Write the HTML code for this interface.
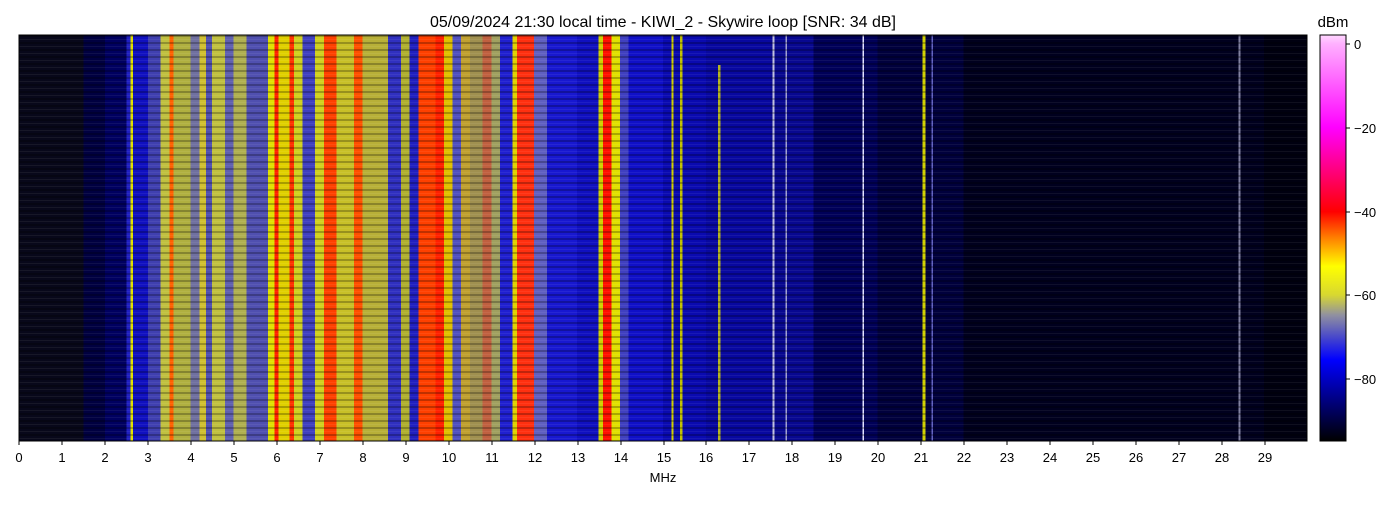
<!DOCTYPE html>
<html><head><meta charset="utf-8"><style>
body{margin:0;background:#fff;width:1400px;height:500px;overflow:hidden;font-family:"Liberation Sans",sans-serif}
</style></head><body>
<svg width="1400" height="500" xmlns="http://www.w3.org/2000/svg" font-family="Liberation Sans, sans-serif">
<defs>
<linearGradient id="cb" x1="0" y1="0" x2="0" y2="1">
<stop offset="0" stop-color="#ffd8ff"/><stop offset="0.022" stop-color="#ffb0ff"/>
<stop offset="0.228" stop-color="#ff00ff"/><stop offset="0.435" stop-color="#ff0000"/>
<stop offset="0.50" stop-color="#ff8000"/><stop offset="0.57" stop-color="#ffff00"/>
<stop offset="0.64" stop-color="#d8d830"/><stop offset="0.69" stop-color="#9090a0"/>
<stop offset="0.75" stop-color="#4040d0"/><stop offset="0.80" stop-color="#0000ff"/>
<stop offset="0.90" stop-color="#000080"/><stop offset="1" stop-color="#000000"/>
</linearGradient>
<pattern id="hz" width="10" height="7" patternUnits="userSpaceOnUse">
<rect width="10" height="2" fill="#000" opacity="0.25"/>
<rect y="4" width="10" height="1" fill="#fff" opacity="0.06"/>
</pattern>
</defs>
<text x="663" y="27" font-size="16" text-anchor="middle">05/09/2024 21:30 local time - KIWI_2 - Skywire loop [SNR: 34 dB]</text>
<svg x="19" y="35" width="1288" height="406" viewBox="0 0 30 406" preserveAspectRatio="none">
<g shape-rendering="crispEdges">
<rect x="0" y="0" width="1.5" height="406" fill="#08081a"/>
<rect x="1.5" y="0" width="0.5" height="406" fill="#000040"/>
<rect x="2" y="0" width="0.5" height="406" fill="#000060"/>
<rect x="2.5" y="0" width="0.1" height="406" fill="#2020c0"/>
<rect x="2.6" y="0" width="0.05" height="406" fill="#e0e000"/>
<rect x="2.65" y="0" width="0.35" height="406" fill="#1010c0"/>
<rect x="3" y="0" width="0.3" height="406" fill="#4040b0"/>
<rect x="3.3" y="0" width="0.2" height="406" fill="#c0c040"/>
<rect x="3.5" y="0" width="0.1" height="406" fill="#ff6000"/>
<rect x="3.6" y="0" width="0.4" height="406" fill="#b0b040"/>
<rect x="4" y="0" width="0.2" height="406" fill="#7070a0"/>
<rect x="4.2" y="0" width="0.15" height="406" fill="#d0c030"/>
<rect x="4.35" y="0" width="0.15" height="406" fill="#5050b0"/>
<rect x="4.5" y="0" width="0.3" height="406" fill="#c0c040"/>
<rect x="4.8" y="0" width="0.2" height="406" fill="#6060b0"/>
<rect x="5" y="0" width="0.3" height="406" fill="#b0b050"/>
<rect x="5.3" y="0" width="0.5" height="406" fill="#5050b0"/>
<rect x="5.8" y="0" width="0.15" height="406" fill="#e0e000"/>
<rect x="5.95" y="0" width="0.1" height="406" fill="#ff2000"/>
<rect x="6.05" y="0" width="0.25" height="406" fill="#e0d000"/>
<rect x="6.3" y="0" width="0.1" height="406" fill="#ff3000"/>
<rect x="6.4" y="0" width="0.2" height="406" fill="#d0d020"/>
<rect x="6.6" y="0" width="0.3" height="406" fill="#4040c0"/>
<rect x="6.9" y="0" width="0.2" height="406" fill="#d0d020"/>
<rect x="7.1" y="0" width="0.3" height="406" fill="#ff4000"/>
<rect x="7.4" y="0" width="0.4" height="406" fill="#c8c028"/>
<rect x="7.8" y="0" width="0.2" height="406" fill="#ff5000"/>
<rect x="8" y="0" width="0.6" height="406" fill="#b8b038"/>
<rect x="8.6" y="0" width="0.3" height="406" fill="#3030c0"/>
<rect x="8.9" y="0" width="0.2" height="406" fill="#b0b030"/>
<rect x="9.1" y="0" width="0.2" height="406" fill="#2020c0"/>
<rect x="9.3" y="0" width="0.4" height="406" fill="#ff4000"/>
<rect x="9.7" y="0" width="0.2" height="406" fill="#ff2000"/>
<rect x="9.9" y="0" width="0.2" height="406" fill="#e0c000"/>
<rect x="10.1" y="0" width="0.2" height="406" fill="#5050c0"/>
<rect x="10.3" y="0" width="0.2" height="406" fill="#c0a030"/>
<rect x="10.5" y="0" width="0.3" height="406" fill="#a09050"/>
<rect x="10.8" y="0" width="0.2" height="406" fill="#c06040"/>
<rect x="11" y="0" width="0.2" height="406" fill="#a0a060"/>
<rect x="11.2" y="0" width="0.3" height="406" fill="#2020d0"/>
<rect x="11.5" y="0" width="0.1" height="406" fill="#e0d000"/>
<rect x="11.6" y="0" width="0.4" height="406" fill="#ff3010"/>
<rect x="12" y="0" width="0.3" height="406" fill="#6060c0"/>
<rect x="12.3" y="0" width="0.7" height="406" fill="#1818d0"/>
<rect x="13" y="0" width="0.5" height="406" fill="#1010c0"/>
<rect x="13.5" y="0" width="0.1" height="406" fill="#d0d000"/>
<rect x="13.6" y="0" width="0.2" height="406" fill="#ff1000"/>
<rect x="13.8" y="0" width="0.2" height="406" fill="#e0e000"/>
<rect x="14" y="0" width="0.2" height="406" fill="#4040c0"/>
<rect x="14.2" y="0" width="0.8" height="406" fill="#1010c8"/>
<rect x="15" y="0" width="1" height="406" fill="#0a0ab0"/>
<rect x="16" y="0" width="1.5" height="406" fill="#0808a0"/>
<rect x="17.5" y="0" width="1" height="406" fill="#080890"/>
<rect x="18.5" y="0" width="1.5" height="406" fill="#000058"/>
<rect x="20" y="0" width="2" height="406" fill="#00003c"/>
<rect x="22" y="0" width="7" height="406" fill="#00001e"/>
<rect x="29" y="0" width="1" height="406" fill="#000010"/>
<rect x="15.2" y="0" width="0.05" height="406" fill="#d0d000"/>
<rect x="15.4" y="0" width="0.05" height="406" fill="#c0c000"/>
<rect x="16.28" y="30" width="0.06" height="376" fill="#e0e000" opacity="0.8"/>
<rect x="17.55" y="0" width="0.05" height="406" fill="#c0c0e0"/>
<rect x="17.85" y="0" width="0.04" height="406" fill="#a0a0d0"/>
<rect x="19.65" y="0" width="0.03" height="406" fill="#e0e0ff"/>
<rect x="21.05" y="0" width="0.06" height="406" fill="#d0d000"/>
<rect x="21.25" y="0" width="0.04" height="406" fill="#6060c0"/>
<rect x="28.4" y="0" width="0.05" height="406" fill="#8080a0"/>
</g>
<rect x="0" y="0" width="30" height="406" fill="url(#hz)"/>
</svg>
<rect x="19" y="35" width="1288" height="406" fill="none" stroke="#000" stroke-width="1"/>
<g font-size="13" text-anchor="middle">
<text x="19" y="462">0</text><text x="62" y="462">1</text><text x="105" y="462">2</text><text x="148" y="462">3</text><text x="191" y="462">4</text><text x="234" y="462">5</text><text x="277" y="462">6</text><text x="320" y="462">7</text><text x="363" y="462">8</text><text x="406" y="462">9</text><text x="449" y="462">10</text><text x="492" y="462">11</text><text x="535" y="462">12</text><text x="578" y="462">13</text><text x="621" y="462">14</text><text x="664" y="462">15</text><text x="706" y="462">16</text><text x="749" y="462">17</text><text x="792" y="462">18</text><text x="835" y="462">19</text><text x="878" y="462">20</text><text x="921" y="462">21</text><text x="964" y="462">22</text><text x="1007" y="462">23</text><text x="1050" y="462">24</text><text x="1093" y="462">25</text><text x="1136" y="462">26</text><text x="1179" y="462">27</text><text x="1222" y="462">28</text><text x="1265" y="462">29</text>
<text x="663" y="482">MHz</text>
</g>
<g stroke="#000">
<path d="M19 441v4M62 441v4M105 441v4M148 441v4M191 441v4M234 441v4M277 441v4M320 441v4M363 441v4M406 441v4M449 441v4M492 441v4M535 441v4M578 441v4M621 441v4M664 441v4M706 441v4M749 441v4M792 441v4M835 441v4M878 441v4M921 441v4M964 441v4M1007 441v4M1050 441v4M1093 441v4M1136 441v4M1179 441v4M1222 441v4M1265 441v4"/>
<path d="M1346 44h4M1346 128h4M1346 212h4M1346 295h4M1346 379h4"/>
</g>
<rect x="1320" y="35" width="26" height="406" fill="url(#cb)" stroke="#000" stroke-width="1"/>
<g font-size="13">
<text x="1354" y="49">0</text><text x="1354" y="133">−20</text><text x="1354" y="217">−40</text><text x="1354" y="300">−60</text><text x="1354" y="384">−80</text>
</g>
<text x="1333" y="27" font-size="15" text-anchor="middle">dBm</text>
</svg>
</body></html>
